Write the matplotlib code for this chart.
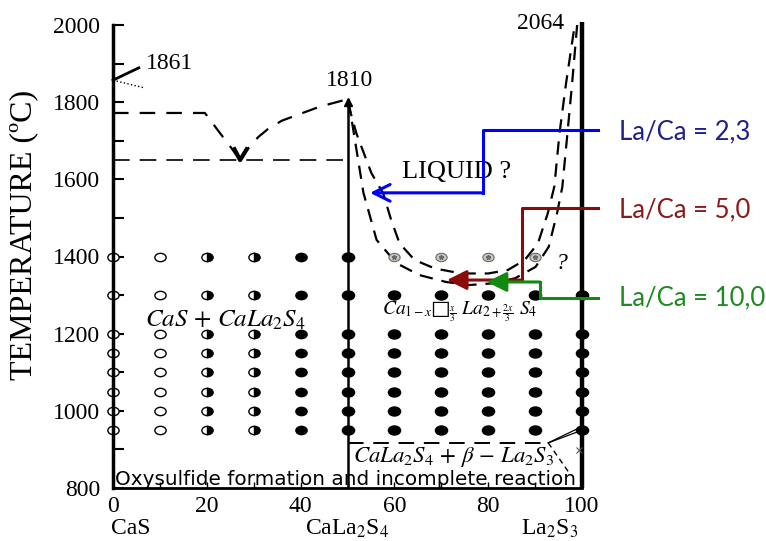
import matplotlib
matplotlib.use("Agg")
import matplotlib.pyplot as plt
from matplotlib.markers import MarkerStyle
from matplotlib.transforms import Affine2D

plt.rcParams['font.family'] = 'Liberation Serif'
plt.rcParams['mathtext.fontset'] = 'stix'

# axes
comp_ticks = [0, 20, 40, 60, 80, 100]
temp_ticks = [800, 1000, 1200, 1400, 1600, 1800, 2000]
phase_names = ['CaS', r'CaLa$_2$S$_4$', r'La$_2$S$_3$']
phase_pos = [-0.4, 50, 93]

# experimental points
rows_T = [1400, 1300, 1200, 1150, 1100, 1050, 1000, 950]
left_cols = [0, 10, 20, 30, 40]
left_fill = ['none', 'none', 'right', 'right', 'full']
right_cols = [50, 60, 70, 80, 90, 100]
grey_cols = [60, 70, 80, 90]
grey_T = 1400

# liquidus, CaS side
liq_left_x = [0, 19.6, 22.8, 25.0, 27.1]
liq_left_T = [1772, 1772, 1720, 1685, 1650]
liq_right_x = [27.1, 29.0, 31.0, 33.0, 36.0, 40.0, 44.0, 49.5]
liq_right_T = [1650, 1683, 1710, 1730, 1752, 1770, 1788, 1806]
eutectic_T = 1650

# liquidus, La2S3 side (two curves)
outer_x = [50.2, 53.4, 56.2, 60.4, 65.3, 71.0, 75.9, 81.6, 85.8, 90.1, 92.9, 94.7, 95.8, 96.9, 97.9, 99.0]
outer_T = [1806, 1565, 1443, 1383, 1352, 1334, 1326, 1331, 1344, 1373, 1425, 1513, 1580, 1720, 1850, 2005]
inner_x = [50.1, 51.9, 55.1, 57.6, 59.3, 61.1, 64.3, 68.6, 74.3, 80.0, 84.2, 87.8, 90.6, 92.7, 94.1, 95.2, 96.6, 98.4]
inner_T = [1797, 1719, 1616, 1564, 1495, 1434, 1391, 1369, 1356, 1356, 1365, 1391, 1434, 1512, 1581, 1719, 1849, 1996]

# subsolidus line
sub_x = [50, 92.8]
sub_T = [917, 917]

# La/Ca arrows: path (x, T) and tip
blue_x = [103.4, 78.9, 78.9]
blue_T = [1728, 1728, 1565]
blue_tip = (54.8, 1565)
red_x = [103.4, 87.2, 87.2]
red_T = [1526, 1526, 1339]
red_tip = (71.2, 1339)
green_x = [103.4, 91.0, 91.0]
green_T = [1292, 1292, 1334]
green_tip = (79.7, 1334)
ratio_labels = ['La/Ca = 2,3', 'La/Ca = 5,0', 'La/Ca = 10,0']
ratio_T = [1722, 1521, 1292]
ratio_colors = ['#20208a', '#8b1a1a', '#1e8a1e']

fig = plt.figure(figsize=(7.66, 5.41), dpi=100)
ax = fig.add_axes([113 / 766, 53 / 541, 469 / 766, 463 / 541])
ax.set_xlim(0, 100)
ax.set_ylim(800, 2000)

for s in ['top', 'right']:
    ax.spines[s].set_visible(False)
ax.spines['left'].set_linewidth(2.5)
ax.spines['bottom'].set_linewidth(2)

ax.set_yticks(temp_ticks)
ax.set_yticks(range(900, 2000, 200), minor=True)
ax.set_xticks(comp_ticks)
ax.set_xticks(range(10, 100, 20), minor=True)
ax.tick_params(axis='y', which='both', direction='in', length=8, width=1.5, labelsize=17, pad=9)
ax.tick_params(axis='x', which='both', direction='in', length=4, width=1, labelsize=17, pad=6)

for name, p in zip(phase_names, phase_pos):
    ax.text(p, 694, name, ha='left' if p < 1 else 'center', va='center',
            fontsize=17, clip_on=False)

fig.text(24 / 766, 1 - 235 / 541, 'TEMPERATURE (ºC)', rotation=90, ha='center', va='center',
         fontsize=23)

# right boundary (La2S3) and CaLa2S4 line
ax.plot([100, 100], [800, 2008], color='black', lw=3.2, clip_on=False, solid_capstyle='butt')
ax.plot([50, 50], [800, 1806], color='black', lw=1.8)
ax.plot([50], [1800], marker='^', color='black', ms=6)

# CaS melting point
ax.plot([0, 5.5], [1857, 1889], color='black', lw=2, clip_on=False)
ax.plot([0, 6.7], [1857, 1837], color='black', lw=1, ls=':')
ax.text(7.0, 1901, '1861', fontsize=17, va='center')
ax.text(50.5, 1857, '1810', fontsize=17, ha='center', va='center')
ax.text(91.2, 2005, '2064', fontsize=17, ha='center', va='center')

dash = (0, (7, 5))
ax.plot(liq_left_x, liq_left_T, color='black', lw=1.6, ls=dash)
ax.plot(liq_right_x, liq_right_T, color='black', lw=1.6, ls=dash)
ax.plot([0, 50], [eutectic_T, eutectic_T], color='black', lw=1.2, ls=(0, (10, 6)))
ax.plot([25.9, 27.1, 28.5], [1678, 1650, 1678], color='black', lw=3)

ax.plot(outer_x, outer_T, color='black', lw=1.6, ls=(0, (6, 4)))
ax.plot(inner_x, inner_T, color='black', lw=1.6, ls=(0, (6, 4)))

ax.plot(sub_x, sub_T, color='black', lw=1.4, ls=(0, (8, 5)))
ax.plot([92.8, 99.6], [917, 957], color='black', lw=0.9)
ax.plot([92.8, 99.6], [917, 948], color='black', lw=0.9)
ax.plot([92.8, 97.5], [917, 835], color='black', lw=1.0, ls=(0, (4, 3)))
ax.plot([99.3], [898], marker='x', color='#555555', ms=4, mew=0.8)

# experimental points
ell = Affine2D().scale(1.35, 1.0)
for x, fs in zip(left_cols, left_fill):
    if fs == 'none':
        ax.plot([x] * len(rows_T), rows_T, ls='none',
                marker=MarkerStyle('o', fillstyle='full', transform=ell),
                ms=6, mfc='white', mec='black', mew=1.0, clip_on=False)
    else:
        ax.plot([x] * len(rows_T), rows_T, ls='none',
                marker=MarkerStyle('o', fillstyle=fs, transform=ell),
                ms=6, mfc='black', mfcalt='white', mec='black', mew=1.0)
for x in right_cols:
    Ts = rows_T if x == 50 else rows_T[1:]
    ax.plot([x] * len(Ts), Ts, ls='none',
            marker=MarkerStyle('o', transform=ell), ms=6.5, color='black', clip_on=False)
ax.plot(grey_cols, [grey_T] * len(grey_cols), ls='none',
        marker=MarkerStyle('o', transform=ell), ms=6, mfc='#c9c9c0', mec='#6a6a6a', mew=0.8)
ax.plot(grey_cols, [grey_T] * len(grey_cols), ls='none', marker='*', ms=3.5, color='#6a6a6a')

ax.text(95.6, 1383, '?', fontsize=17, ha='center', va='center', style='italic')
ax.text(73.3, 1619, 'LIQUID ?', fontsize=19, ha='center', va='center',
        bbox=dict(facecolor='white', edgecolor='none', pad=1), zorder=1)
ax.text(24.0, 1235, r'$CaS\,+\,CaLa_2S_4$', fontsize=18, ha='center', va='center')
ax.text(74.0, 1257, '$Ca_{1-x}\u25a1_{\\frac{x}{3}}\\ La_{2+\\frac{2x}{3}}\\ S_4$',
        fontsize=14, ha='center', va='center')
ax.text(72.5, 881, r'$CaLa_2S_4\,+\,\beta\,-\,La_2S_3$', fontsize=16.5, ha='center', va='center')
ax.text(49.5, 821, 'Oxysulfide formation and incomplete reaction', fontsize=14.4,
        family='DejaVu Sans', ha='center', va='center')

# La/Ca arrows
paths = [(blue_x, blue_T, blue_tip, '#0000ff', '->'),
         (red_x, red_T, red_tip, '#8b0a0a', '-|>'),
         (green_x, green_T, green_tip, '#118a11', '-|>')]
for px, pT, tip, col, style in paths:
    ax.plot(px, pT, color=col, lw=2.2, clip_on=False, zorder=5)
    ax.annotate('', xy=tip, xytext=(px[-1], pT[-1]),
                arrowprops=dict(arrowstyle=style + ',head_length=0.6,head_width=0.3',
                                color=col, lw=2.2, mutation_scale=20,
                                shrinkA=0, shrinkB=0), zorder=5)

for lab, T, col in zip(ratio_labels, ratio_T, ratio_colors):
    ax.text(107.9, T, lab, color=col, fontsize=18.5, family='Lato', ha='left', va='center',
            clip_on=False)

fig.savefig('out.png', dpi=100)
